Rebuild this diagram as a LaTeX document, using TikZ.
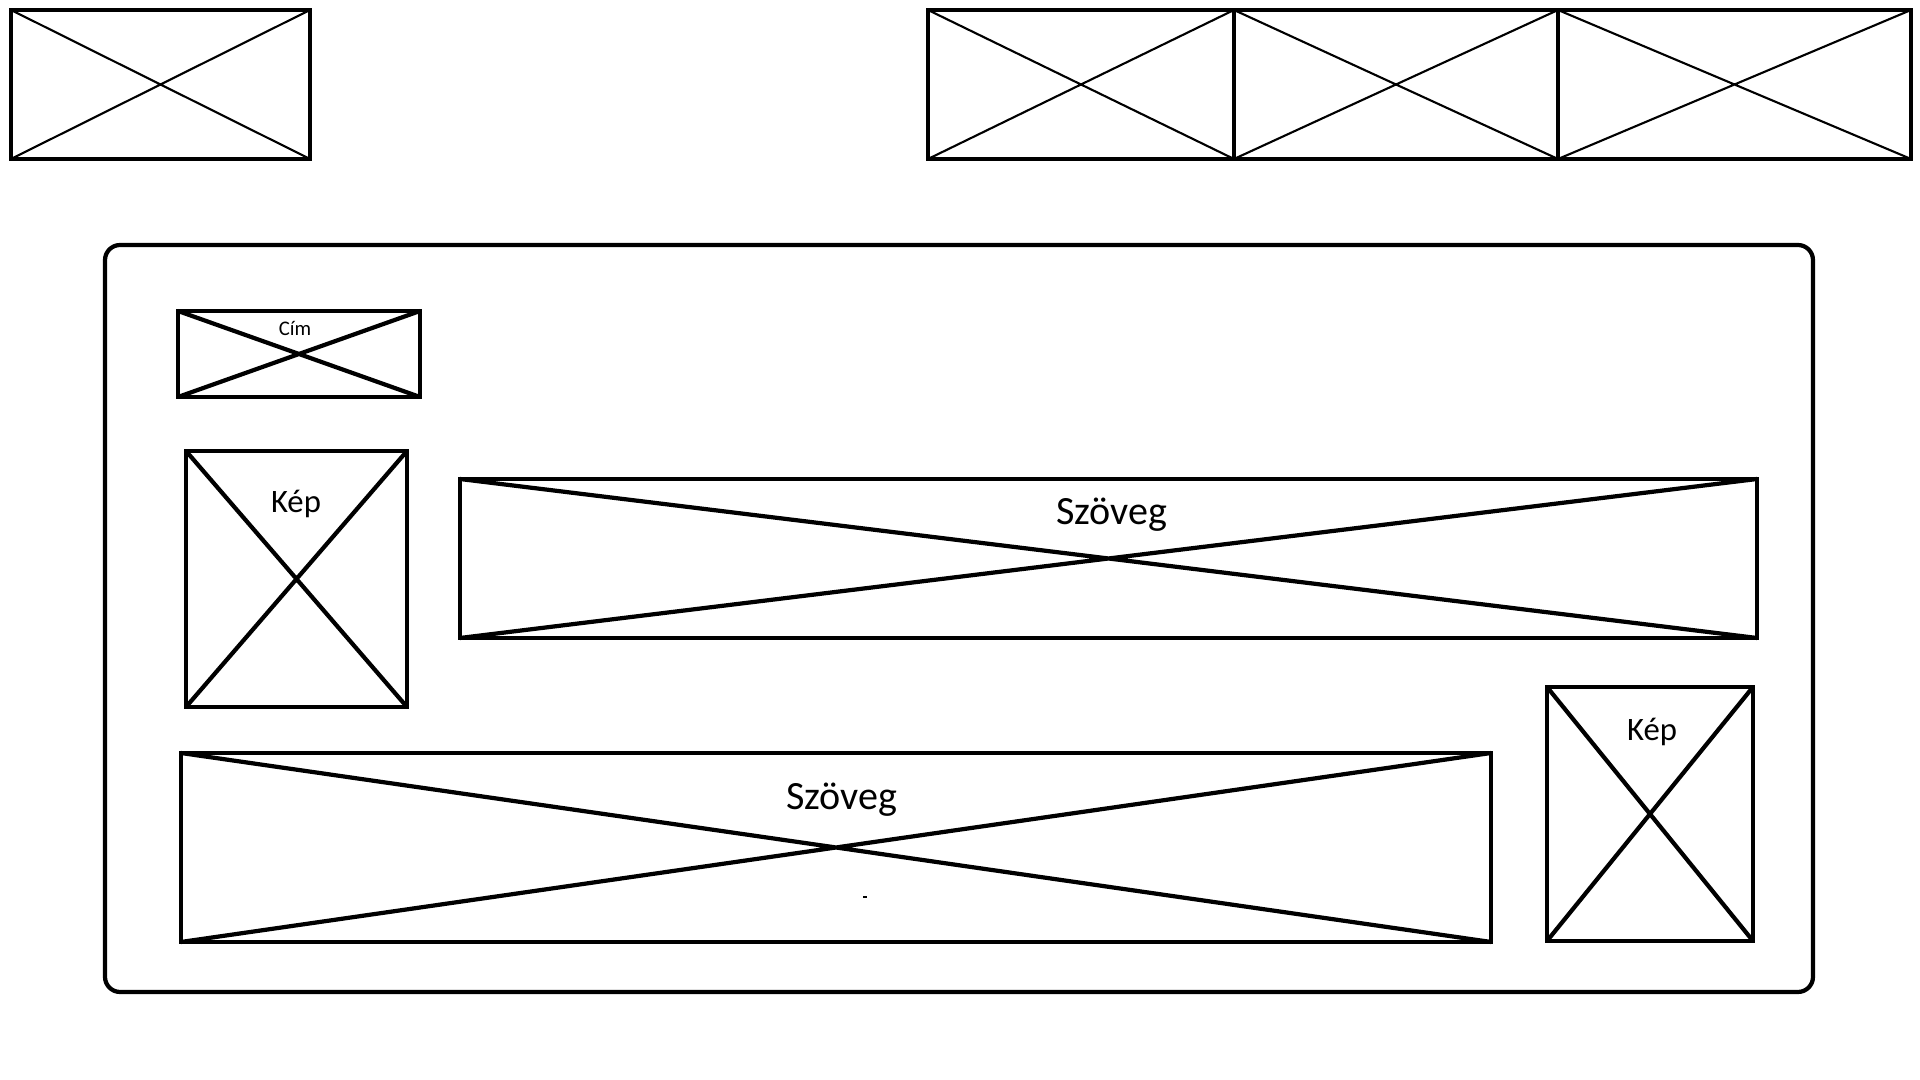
\documentclass[tikz,border=0pt]{standalone}
\usepackage{fontspec}
\setmainfont{Carlito}
\tikzset{
  frame/.style={line width=1.2pt},
  thincross/.style={line width=0.6pt},
  cross/.style={line width=1.2pt},
  bigtext/.style={anchor=base,inner sep=0pt,font=\fontsize{11.4}{13}\selectfont},
  midtext/.style={anchor=base,inner sep=0pt,font=\fontsize{9.3}{11}\selectfont},
  smalltext/.style={anchor=base,inner sep=0pt,font=\fontsize{5.9}{7}\selectfont},
}
\begin{document}
\begin{tikzpicture}[x=0.01cm,y=-0.01cm]
        \useasboundingbox (0,0) rectangle (1920,1080);
        %% Header: logo and menu
        \draw[frame] (11,10) rectangle (310,159);
        \draw[thincross] (11,10) -- (310,159) (11,159) -- (310,10);
        \foreach \xa/\xb in {928/1234,1234/1558,1558/1911} {
            \draw[frame] (\xa,10) rectangle (\xb,159);
            \draw[thincross] (\xa,10) -- (\xb,159) (\xa,159) -- (\xb,10);
        }
        %% Content frame
        \draw[frame,rounded corners=4.3pt] (105,245) rectangle (1813,992);
        %% Title
        \draw[frame] (178,311) rectangle (420,397);
        \draw[cross] (178,311) -- (420,397) (178,397) -- (420,311);
        \node[smalltext] (cim) at (295,336) {Cím};
        %% First row
        \draw[frame] (186,451) rectangle (407,707);
        \draw[cross] (186,451) -- (407,707) (186,707) -- (407,451);
        \node[midtext] (kepA) at (296,513) {Kép};
        \draw[frame] (460,479) rectangle (1757,638);
        \draw[cross] (460,479) -- (1757,638) (460,638) -- (1757,479);
        \node[bigtext] (szovegA) at (1112,525) {Szöveg};
        %% Second row
        \draw[frame] (181,753) rectangle (1491,942);
        \draw[cross] (181,753) -- (1491,942) (181,942) -- (1491,753);
        \node[bigtext] (szovegB) at (842,810) {Szöveg};
        \draw[line width=0.5pt] (863,897) -- (867,897);
        \draw[frame] (1547,687) rectangle (1753,941);
        \draw[cross] (1547,687) -- (1753,941) (1547,941) -- (1753,687);
        \node[midtext] (kepB) at (1652,741) {Kép};
\end{tikzpicture}
\end{document}
